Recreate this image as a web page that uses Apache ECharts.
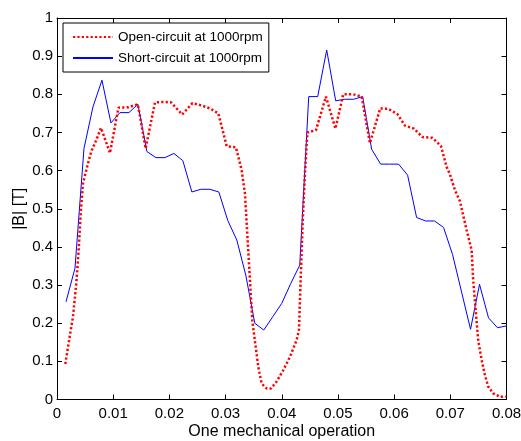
<!DOCTYPE html>
<html>
<head>
<meta charset="utf-8">
<script src="https://cdn.jsdelivr.net/npm/echarts@6/dist/echarts.min.js"></script>
<style>html,body{margin:0;padding:0;background:#fff}#c{width:521px;height:441px}</style>
</head>
<body>
<div id="c"></div>
<script>
var xTicks = ['0','0.01','0.02','0.03','0.04','0.05','0.06','0.07','0.08'];
var yTicks = ['0','0.1','0.2','0.3','0.4','0.5','0.6','0.7','0.8','0.9','1'];

var shortX = [0.0016,0.0032,0.0048,0.0064,0.008,0.0096,0.0112,0.0128,0.0144,0.016,
  0.0176,0.0192,0.0208,0.0224,0.024,0.0256,0.0272,0.0288,0.0304,0.032,
  0.0336,0.0352,0.0368,0.0384,0.04,0.0416,0.0432,0.0448,0.0464,0.048,
  0.0496,0.0512,0.0528,0.0544,0.056,0.0576,0.0592,0.0608,0.0624,0.064,
  0.0656,0.0672,0.0688,0.0704,0.072,0.0736,0.0752,0.0768,0.0784,0.08];
var shortY = [0.256,0.344,0.658,0.767,0.837,0.725,0.752,0.752,0.774,0.650,
  0.634,0.634,0.645,0.626,0.544,0.551,0.551,0.544,0.469,0.418,
  0.326,0.200,0.182,0.217,0.252,0.304,0.352,0.794,0.794,0.916,
  0.783,0.787,0.787,0.794,0.656,0.617,0.617,0.617,0.588,0.477,
  0.468,0.468,0.451,0.380,0.282,0.184,0.302,0.214,0.188,0.193];

var openX = [0.00148,0.00226,0.00285,0.00343,0.00386,0.00422,0.00463,0.00552,0.00610,0.00699,
  0.00783,0.00943,0.01094,0.01269,0.01438,0.01578,0.01744,0.01895,0.02028,0.02228,
  0.02411,0.02589,0.02722,0.02870,0.03020,0.03185,0.03286,0.03345,0.03393,0.03434,
  0.03475,0.03536,0.03582,0.03642,0.03731,0.03808,0.03909,0.04027,0.04146,0.04265,
  0.04306,0.04336,0.04372,0.04413,0.04457,0.04609,0.04786,0.04956,0.05094,0.05272,
  0.05422,0.05569,0.05753,0.05895,0.06059,0.06192,0.06352,0.06504,0.06681,0.06833,
  0.06934,0.06993,0.07082,0.07171,0.07290,0.07379,0.07407,0.07456,0.07496,0.07557,
  0.07616,0.07674,0.07763,0.07883,0.07989];
var openY = [0.093,0.165,0.217,0.305,0.392,0.488,0.567,0.619,0.650,0.680,
  0.712,0.646,0.765,0.766,0.774,0.658,0.779,0.780,0.779,0.747,
  0.777,0.770,0.763,0.750,0.664,0.661,0.601,0.540,0.418,0.313,
  0.208,0.138,0.086,0.042,0.029,0.029,0.047,0.077,0.112,0.156,
  0.182,0.313,0.462,0.593,0.700,0.706,0.794,0.710,0.800,0.800,
  0.794,0.672,0.763,0.762,0.748,0.718,0.710,0.688,0.686,0.665,
  0.610,0.590,0.549,0.520,0.444,0.392,0.313,0.226,0.156,0.104,
  0.064,0.034,0.016,0.007,0.007];

function zip(a,b){var r=[];for(var i=0;i<a.length;i++)r.push([a[i],b[i]]);return r;}

var FONT = "'Liberation Sans', Arial, sans-serif";
var chart = echarts.init(document.getElementById('c'), null, {renderer:'canvas'});
var axisCommon = {
  axisLine:{show:true,onZero:false,lineStyle:{color:'#000',width:1}},
  axisTick:{show:true,inside:true,length:5,lineStyle:{color:'#000'}},
  splitLine:{show:false}
};
chart.setOption({
  animation:false,
  backgroundColor:'#fff',
  grid:{left:57,top:18,right:14.5,bottom:41.5,containLabel:false,outerBoundsMode:'none'},
  legend:{
    orient:'vertical', left:63, top:23,
    data:['Open-circuit at 1000rpm','Short-circuit at 1000rpm'],
    borderColor:'#000', borderWidth:1, backgroundColor:'#fff',
    padding:[7,6,7,9], itemGap:7, itemWidth:40, itemHeight:14,
    itemStyle:{opacity:0},
    textStyle:{fontFamily:FONT,fontSize:13.5,color:'#000'}
  },
  xAxis:[
    Object.assign({type:'value',min:0,max:0.08,interval:0.01,position:'bottom',
      name:'One mechanical operation',nameLocation:'middle',nameGap:24,
      nameMoveOverlap:false,
      nameTextStyle:{fontFamily:FONT,fontSize:16,color:'#000'},
      axisLabel:{fontFamily:FONT,fontSize:15,color:'#000',margin:7,
        formatter:function(v){var i=Math.round(v/0.01);return xTicks[i];}}}, axisCommon),
    Object.assign({type:'value',min:0,max:0.08,interval:0.01,position:'top',
      axisLabel:{show:false}}, axisCommon)
  ],
  yAxis:[
    Object.assign({type:'value',min:0,max:1,interval:0.1,position:'left',
      name:'|B| [T]',nameLocation:'middle',nameGap:29,
      nameMoveOverlap:false,
      nameTextStyle:{fontFamily:FONT,fontSize:16,color:'#000'},
      axisLabel:{fontFamily:FONT,fontSize:15,color:'#000',margin:4,
        formatter:function(v){var i=Math.round(v/0.1);return yTicks[i];}}}, axisCommon),
    Object.assign({type:'value',min:0,max:1,interval:0.1,position:'right',
      axisLabel:{show:false}}, axisCommon)
  ],
  series:[
    {name:'Open-circuit at 1000rpm',type:'line',data:zip(openX,openY),
      showSymbol:false,symbol:'none',
      lineStyle:{color:'#ff0000',width:2.5,type:[2.2,2.2],cap:'butt'},
      itemStyle:{color:'#ff0000'}, z:3},
    {name:'Short-circuit at 1000rpm',type:'line',data:zip(shortX,shortY),
      showSymbol:false,symbol:'none',
      lineStyle:{color:'#0000ff',width:1},
      itemStyle:{color:'#0000ff'}, z:2}
  ]
});
</script>
</body>
</html>
